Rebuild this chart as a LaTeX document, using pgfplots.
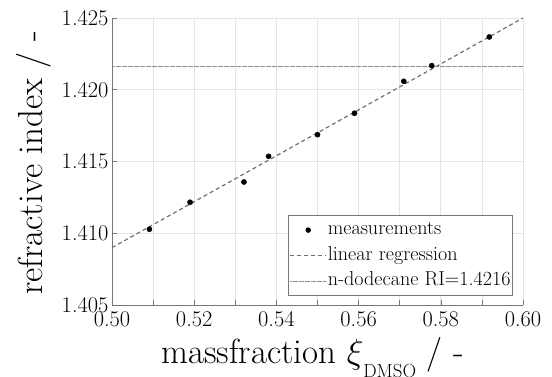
\documentclass[border=0pt]{standalone}
\usepackage{fix-cm}
\usepackage{fontspec}
\usepackage{pgfplots}
\pgfplotsset{compat=1.18}

\definecolor{axisgray}{HTML}{777777}
\definecolor{gridgray}{HTML}{E4E4E4}
\definecolor{fitgray}{HTML}{707070}
\definecolor{refgray}{HTML}{8C8C8C}

\pgfplotsset{
  lineleg/.style={legend image code/.code={\draw[##1] (0bp,0bp) -- (36bp,0bp);}},
  dotleg/.style={legend image code/.code={\fill[black] (18bp,0bp) circle (2.3bp); \path[draw=none] (0bp,0bp) -- (36bp,0bp);}},
}

% refractive index of DMSO / n-dodecane mixtures
\pgfplotstableread{
xi      n
0.5091  1.41028
0.5190  1.41216
0.5321  1.41357
0.5381  1.41536
0.5500  1.41687
0.5590  1.41836
0.5710  1.42059
0.5778  1.42168
0.5918  1.42368
}\measured

\begin{document}
\begin{tikzpicture}
\begin{axis}[
  at={(0,0)}, anchor=south west,
  scale only axis, width=411bp, height=287bp,
  xmin=0.50, xmax=0.60, ymin=1.405, ymax=1.425,
  axis x line*=bottom, axis y line*=left,
  axis line style={axisgray, line width=0.8pt},
  xtick={0.50,0.52,...,0.601}, minor xtick={0.51,0.53,...,0.60},
  ytick={1.405,1.410,...,1.4251},
  tick align=inside, major tick length=5bp, minor tick length=5bp,
  tick style={axisgray, line width=0.6pt},
  grid=both,
  major grid style={gridgray, line width=0.7pt},
  minor grid style={gridgray, line width=0.7pt},
  /pgf/number format/assume math mode=true,
  xticklabel style={yshift=-3bp, /pgf/number format/.cd, fixed, fixed zerofill, precision=2},
  yticklabel style={/pgf/number format/.cd, fixed, fixed zerofill, precision=3},
  ticklabel style={font=\fontsize{22.5}{26}\selectfont},
  scaled ticks=false,
  xlabel={massfraction $\xi$\raisebox{-14bp}{\fontsize{19}{20}\selectfont DMSO} / -},
  ylabel={refractive index / -},
  every axis x label/.style={at={(axis description cs:0.5,0)}, anchor=base, yshift=-58bp, xshift=-5bp,
    font=\fontsize{35}{40}\selectfont},
  every axis y label/.style={at={(axis description cs:-0.168,0.495)}, anchor=base, rotate=90,
    font=\fontsize{35}{40}\selectfont},
  legend style={at={(1,0)}, anchor=south east, xshift=-10bp, yshift=9bp,
    draw=axisgray, line width=0.8pt, fill=white,
    font=\fontsize{20.2}{24}\selectfont,
    inner xsep=1bp, inner ysep=4bp, row sep=4.5bp,
    nodes={inner xsep=1bp, inner ysep=1bp, text height=14bp, text depth=5bp}},
  legend cell align=left,
]
\addplot[only marks, mark=*, mark size=2.6bp, black, dotleg]
  table[x=xi, y=n] {\measured};
\addlegendentry{measurements}
\addplot[fitgray, line width=1.2pt, dash pattern=on 4bp off 3bp, lineleg]
  coordinates {(0.50,1.4090) (0.60,1.4250)};
\addlegendentry{linear regression}
\addplot[refgray, line width=0.7pt, dash pattern=on 0.6bp off 0.6bp, lineleg]
  coordinates {(0.50,1.4216) (0.60,1.4216)};
\addlegendentry{n-dodecane RI=1.4216}
\end{axis}
\pgfresetboundingbox
\useasboundingbox (-112bp,-72bp) rectangle (440bp,305bp);
\end{tikzpicture}
\end{document}
